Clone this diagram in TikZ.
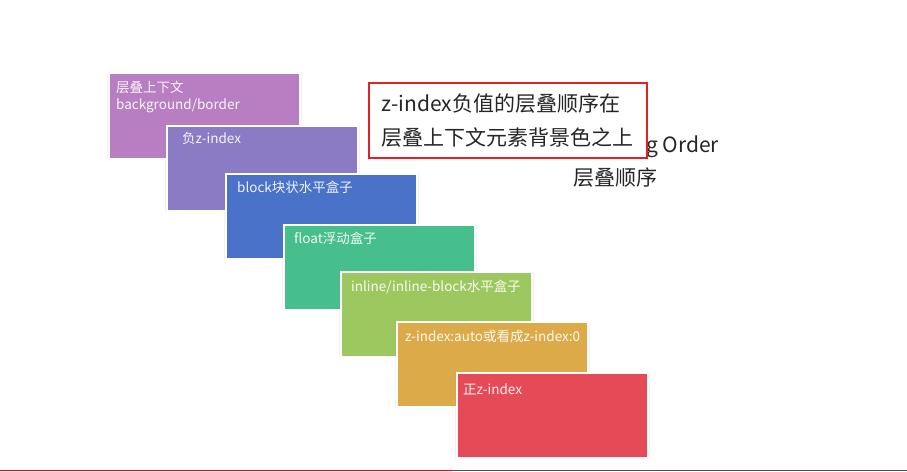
\documentclass[tikz,border=0pt]{standalone}
\usepackage{fontspec}
\setmainfont{Noto Sans CJK SC}
\usetikzlibrary{positioning, shadows}

\definecolor{ctxpurple}{HTML}{B77EC2}
\definecolor{negviolet}{HTML}{8A7BC4}
\definecolor{blockblue}{HTML}{4A72C8}
\definecolor{floatgreen}{HTML}{47BF8D}
\definecolor{inlinegreen}{HTML}{9CC85F}
\definecolor{autoorange}{HTML}{DDAA49}
\definecolor{posred}{HTML}{E54A57}
\definecolor{noteframe}{HTML}{E02222}
\definecolor{bargray}{HTML}{4A5157}

\begin{document}
\begin{tikzpicture}[x=1pt, y=-1pt,
    layer/.style={rectangle, anchor=north west, minimum width=191pt, minimum height=85pt, inner sep=0pt, draw=white, line width=2pt, drop shadow={shadow xshift=0pt, shadow yshift=0pt, shadow scale=1.02, opacity=0.1}},
    layerlabel/.style={anchor=west, inner sep=0pt, text=white, text opacity=0.92, font=\fontsize{13.5}{17}\selectfont},
    notebox/.style={rectangle, anchor=north west, minimum width=278pt, minimum height=75pt, draw=noteframe, line width=1.5pt, fill=white, align=left, text=black!85, font=\fontsize{21}{34}\selectfont},
    heading/.style={text=black!85, font=\fontsize{21}{25}\selectfont}
]
% canvas in pixels of the reference, y grows downwards
\useasboundingbox (0,0) rectangle (907,471);

% stacking order heading (partly hidden by the note)
\node[heading, anchor=west, inner sep=0pt] (hd) at (646,147) {g Order};
\node[heading, inner sep=0pt] (hdcn) at (615,178) {层叠顺序};

% the seven layers, back to front
\node[layer, fill=ctxpurple, minimum height=86pt] (b1) at (108,72) {};
\node[layerlabel, anchor=north west, align=left, font=\fontsize{13.5}{17}\selectfont] (l1) at ([shift={(8,9)}]b1.north west) {层叠上下文\\background/border};

\node[layer, fill=negviolet] (b2) at (166,125) {};
\node[layerlabel] (l2) at ([shift={(16,13)}]b2.north west) {负z-index};

\node[layer, fill=blockblue] (b3) at (225,173) {};
\node[layerlabel] (l3) at ([shift={(12,14)}]b3.north west) {block块状水平盒子};

\node[layer, fill=floatgreen] (b4) at (283,224) {};
\node[layerlabel] (l4) at ([shift={(11,14)}]b4.north west) {float浮动盒子};

\node[layer, fill=inlinegreen] (b5) at (340,271) {};
\node[layerlabel] (l5) at ([shift={(11,16)}]b5.north west) {inline/inline-block水平盒子};

\node[layer, fill=autoorange] (b6) at (396,321) {};
\node[layerlabel] (l6) at ([shift={(9,15)}]b6.north west) {z-index:auto或看成z-index:0};

\node[layer, fill=posred] (b7) at (456,372) {};
\node[layerlabel] (l7) at ([shift={(7,17)}]b7.north west) {正z-index};

% note on negative z-index
\node[notebox] (note) at (368,82) {z-index负值的层叠顺序在\\层叠上下文元素背景色之上};

% progress bar along the bottom edge
\fill[red] (0,469.5) rectangle (452,471);
\fill[bargray] (452,469.5) rectangle (907,471);
\end{tikzpicture}
\end{document}
